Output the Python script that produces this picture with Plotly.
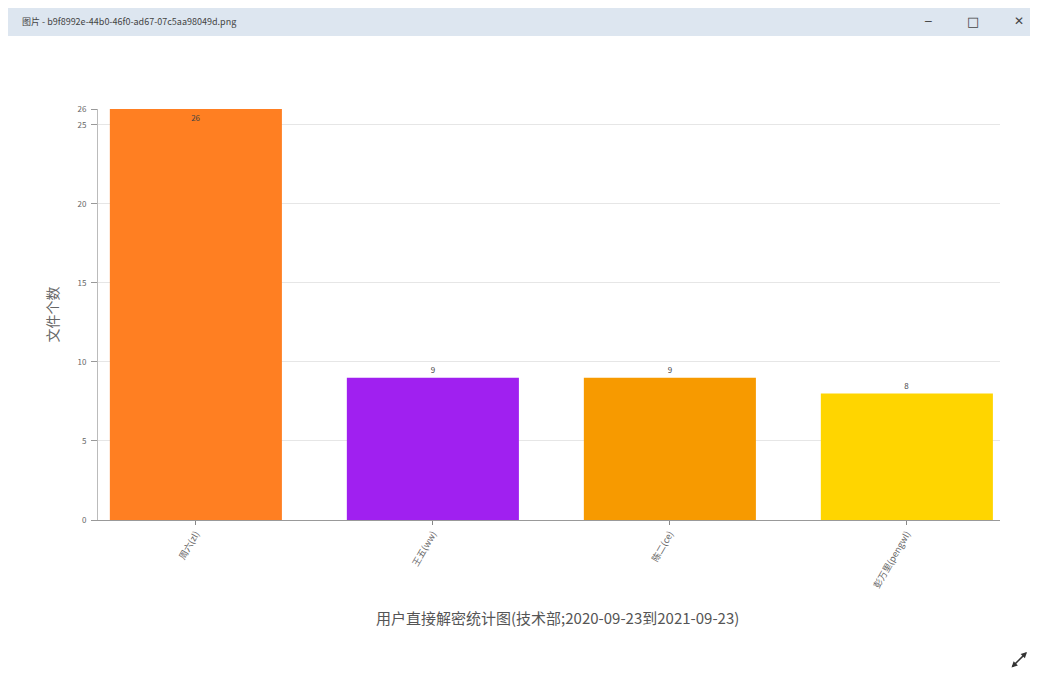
import plotly.graph_objects as go

# data
users = ["周六(zl)", "王五(ww)", "陈二(ce)", "彭万里(pengwl)"]
counts = [26, 9, 9, 8]
bar_colors = ["#FF7F22", "#A020F0", "#F79A00", "#FFD500"]
y_ticks = [0, 5, 10, 15, 20, 25, 26]

# page body has an 8px margin, so figure coords = page coords - 8
OFF = 8
W, H = 1038 - OFF, 682 - OFF
L, R, T, B = 98 - OFF, 38, 109 - OFF, 162
FONT = "Noto Sans CJK SC, Noto Sans, DejaVu Sans"


def px_x(px):
    # px is a page coordinate
    return (px - OFF - L) / (W - L - R)


def px_y(py):
    return (H - B - (py - OFF)) / (H - T - B)


fig = go.Figure()
fig.add_trace(go.Bar(
    x=list(range(len(users))),
    y=counts,
    width=0.726,
    marker=dict(color=bar_colors, line=dict(width=0)),
    text=[str(c) for c in counts],
    textposition=["inside", "outside", "outside", "outside"],
    insidetextanchor="end",
    textfont=dict(size=8, color="#444"),
    cliponaxis=False,
    hoverinfo="x+y",
))

shapes = [
    # window title bar
    dict(type="rect", xref="paper", yref="paper",
         x0=px_x(OFF), x1=px_x(1038), y0=px_y(OFF), y1=px_y(36),
         fillcolor="#dde6f0", line=dict(width=0), layer="below"),
]

annotations = [
    dict(text="图片 - b9f8992e-44b0-46f0-ad67-07c5aa98049d.png",
         xref="paper", yref="paper", x=px_x(20), y=px_y(21),
         xanchor="left", yanchor="middle", showarrow=False,
         font=dict(size=9, color="#444", family=FONT)),
    dict(text="─", xref="paper", yref="paper", x=px_x(928), y=px_y(21),
         xanchor="center", yanchor="middle",
         showarrow=False, font=dict(size=11, color="#444", family="DejaVu Sans")),
    dict(text="□", xref="paper", yref="paper", x=px_x(973), y=px_y(21),
         xanchor="center", yanchor="middle",
         showarrow=False, font=dict(size=13, color="#444", family="DejaVu Sans")),
    dict(text="✕", xref="paper", yref="paper", x=px_x(1019), y=px_y(21),
         xanchor="center", yanchor="middle",
         showarrow=False, font=dict(size=12, color="#444", family="DejaVu Sans")),
    # expand icon bottom right
    dict(text="", xref="paper", yref="paper", x=px_x(1027), y=px_y(652),
         ax=-17, ay=17, showarrow=True, arrowside="end+start",
         arrowhead=2, arrowsize=0.8, arrowwidth=1.5, arrowcolor="#333"),
    # x title
    dict(text="用户直接解密统计图(技术部;2020-09-23到2021-09-23)",
         xref="paper", yref="paper", x=px_x(557), y=px_y(617),
         xanchor="center", yanchor="middle",
         showarrow=False, font=dict(size=15, color="#555", family=FONT)),
]

fig.update_layout(
    width=W, height=H,
    margin=dict(l=L, r=R, t=T, b=B),
    paper_bgcolor="white", plot_bgcolor="white",
    font=dict(family=FONT, color="#555"),
    showlegend=False,
    shapes=shapes,
    annotations=annotations,
    xaxis=dict(
        range=[-0.413, 3.393],
        tickvals=list(range(len(users))),
        ticktext=users,
        tickangle=-60,
        tickfont=dict(size=9, color="#666"),
        ticks="outside", ticklen=4, tickcolor="#888",
        showline=True, linecolor="#999", linewidth=1,
        showgrid=False, zeroline=False,
    ),
    yaxis=dict(
        range=[0, 26],
        tickvals=y_ticks,
        tickfont=dict(size=8, color="#666"),
        ticks="outside", ticklen=6, tickcolor="#999",
        ticklabelstandoff=3,
        showline=True, linecolor="#bbb", linewidth=1,
        showgrid=True, gridcolor="#e6e6e6", gridwidth=1,
        zeroline=False,
        title=dict(text="文件个数", font=dict(size=14, color="#666"), standoff=15),
    ),
)

fig.write_html("out.html")
